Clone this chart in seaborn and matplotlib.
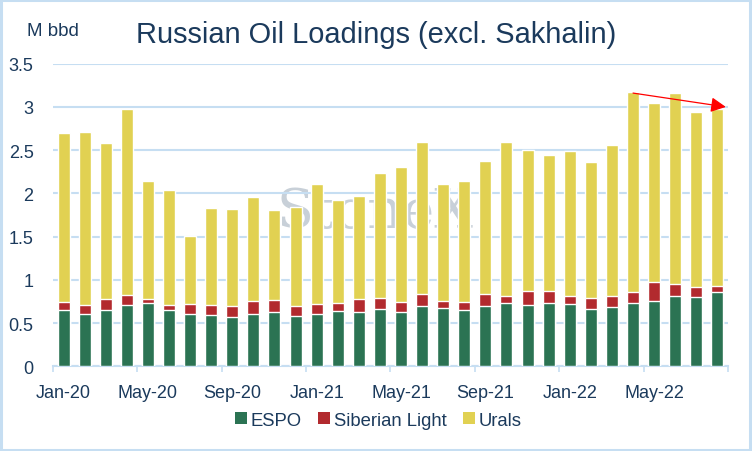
import numpy as np
import pandas as pd
import matplotlib
matplotlib.use("Agg")
import matplotlib.pyplot as plt
from matplotlib.patches import Patch, Rectangle
import seaborn as sns

months = ["Jan-20", "Feb-20", "Mar-20", "Apr-20", "May-20", "Jun-20", "Jul-20", "Aug-20",
          "Sep-20", "Oct-20", "Nov-20", "Dec-20", "Jan-21", "Feb-21", "Mar-21", "Apr-21",
          "May-21", "Jun-21", "Jul-21", "Aug-21", "Sep-21", "Oct-21", "Nov-21", "Dec-21",
          "Jan-22", "Feb-22", "Mar-22", "Apr-22", "May-22", "Jun-22", "Jul-22", "Aug-22"]
espo = [0.65, 0.61, 0.65, 0.71, 0.73, 0.65, 0.61, 0.59, 0.57, 0.61, 0.63, 0.58, 0.61, 0.64, 0.63, 0.66,
        0.63, 0.70, 0.68, 0.65, 0.70, 0.73, 0.71, 0.73, 0.72, 0.66, 0.69, 0.73, 0.76, 0.81, 0.80, 0.86]
siberian = [0.09, 0.10, 0.13, 0.12, 0.05, 0.06, 0.11, 0.12, 0.13, 0.15, 0.14, 0.12, 0.11, 0.09, 0.15, 0.13,
            0.11, 0.14, 0.08, 0.09, 0.14, 0.08, 0.16, 0.14, 0.09, 0.13, 0.12, 0.13, 0.21, 0.14, 0.12, 0.07]
urals = [1.96, 2.00, 1.80, 2.15, 1.36, 1.33, 0.79, 1.12, 1.12, 1.20, 1.04, 1.14, 1.39, 1.19, 1.19, 1.45,
         1.57, 1.75, 1.35, 1.40, 1.53, 1.78, 1.63, 1.57, 1.68, 1.57, 1.75, 2.31, 2.07, 2.21, 2.02, 2.05]
series_names = ["ESPO", "Siberian Light", "Urals"]
yticks = [0, 0.5, 1, 1.5, 2, 2.5, 3, 3.5]
ytick_labels = ["0", "0.5", "1", "1.5", "2", "2.5", "3", "3.5"]

C_GREEN = "#2B7353"
C_RED = "#B22A2E"
C_YEL = "#E1D152"
C_TXT = "#1B3A5C"
C_GRID = "#C6DEF2"

sns.set_theme(style="white")
plt.rcParams["font.family"] = ["Liberation Sans", "DejaVu Sans"]

df = pd.DataFrame({"month": months, "espo": espo, "sib": siberian, "urals": urals})
df["lvl1"] = df["espo"]
df["lvl2"] = df["espo"] + df["sib"]
df["lvl3"] = df["lvl2"] + df["urals"]

fig = plt.figure(figsize=(7.52, 4.52), dpi=100)
ax = fig.add_axes([0.0705, 0.1874, 0.8975, 0.6695])

# watermark
ax.text(14.75, 1.78, "StoneX", ha="center", va="center", fontsize=39,
        family="DejaVu Serif", color="#C8D0D8", zorder=0.5)

bw = 0.57
sns.barplot(data=df, x="month", y="lvl3", color=C_YEL, width=bw, saturation=1, ax=ax, zorder=2)
sns.barplot(data=df, x="month", y="lvl2", color=C_RED, width=bw, saturation=1, ax=ax, zorder=3)
sns.barplot(data=df, x="month", y="lvl1", color=C_GREEN, width=bw, saturation=1, ax=ax, zorder=4)

ax.set_ylim(0, 3.5)
ax.set_xlim(-0.5, len(months) - 0.5)
ax.set_yticks(yticks)
ax.set_yticklabels(ytick_labels)
ax.yaxis.grid(True, color=C_GRID, linewidth=1.5)
ax.set_axisbelow(True)
ax.set_xlabel("")
ax.set_ylabel("")

xt = list(range(0, len(months), 4))
ax.set_xticks(xt)
ax.set_xticklabels([months[i] for i in xt])
ax.set_xticks(np.arange(-0.5, len(months), 4), minor=True)
ax.tick_params(axis="x", which="major", length=0, pad=13, labelsize=13, labelcolor=C_TXT)
ax.tick_params(axis="x", which="minor", length=4, width=1.2, color=C_GRID, bottom=True)
ax.tick_params(axis="y", length=0, pad=14, labelsize=13, labelcolor=C_TXT)

for s in ["top", "right", "left"]:
    ax.spines[s].set_visible(False)
ax.spines["bottom"].set_color(C_GRID)
ax.spines["bottom"].set_linewidth(1.5)

# trend arrow
ax.annotate("", xy=(31.4, df["lvl3"].iloc[31] + 0.02), xytext=(27, df["lvl3"].iloc[27] - 0.01),
            arrowprops=dict(arrowstyle="-|>,head_length=0.6,head_width=0.3", color="#FF0000",
                            lw=0.9, mutation_scale=15, shrinkA=0, shrinkB=0), zorder=6,
            annotation_clip=False)

fig.text(0.5, 0.922, "Russian Oil Loadings (excl. Sakhalin)", ha="center", va="center",
         fontsize=20.9, color=C_TXT)
fig.text(0.036, 0.931, "M bbd", ha="left", va="center", fontsize=13.5, color=C_TXT)

handles = [Patch(facecolor=c, edgecolor="none") for c in (C_GREEN, C_RED, C_YEL)]
fig.legend(handles, series_names, loc="center", bbox_to_anchor=(0.503, 0.068), ncol=3,
           frameon=False, fontsize=13.3, labelcolor=C_TXT, handlelength=0.65, handleheight=0.65,
           handletextpad=0.2, columnspacing=0.9)

fig.patches.append(Rectangle((0.0015, 0.0025), 0.996, 0.995, transform=fig.transFigure,
                             fill=False, edgecolor=C_GRID, linewidth=2.2))

fig.savefig("out.png", dpi=100)
